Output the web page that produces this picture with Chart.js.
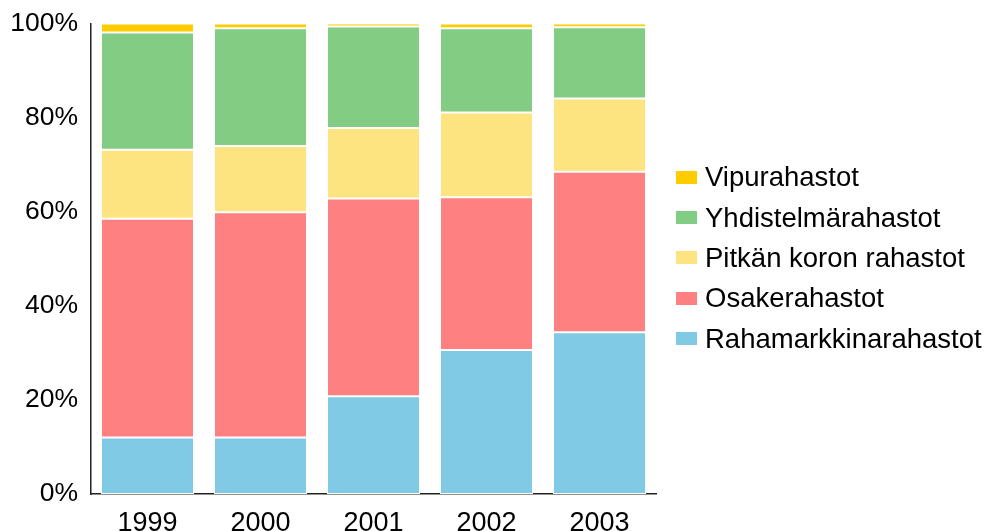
<!DOCTYPE html>
<html>
<head>
<meta charset="utf-8">
<script src="https://cdn.jsdelivr.net/npm/chart.js@4/dist/chart.umd.min.js"></script>
<style>
  html, body { margin: 0; padding: 0; background: #fff; }
  #wrap { position: relative; width: 986px; height: 531px; }
  #legend { position: absolute; left: 676px; top: 157px; font: 27.5px "Liberation Sans", Arial, sans-serif; color: #000; }
  #legend div { height: 40.4px; display: flex; align-items: center; white-space: nowrap; }
  #legend span.box { display: inline-block; width: 21px; height: 13px; margin-right: 8px; }
</style>
</head>
<body>
<div id="wrap">
  <canvas id="chart" width="986" height="531"></canvas>
  <div id="legend"></div>
</div>
<script>
const years = [`1999`, `2000`, `2001`, `2002`, `2003`];

// osuudet prosentteina, alhaalta ylös
const rahamarkkina = [12.0, 12.0, 20.8, 30.6, 34.4];
const osake = [46.5, 47.9, 42.0, 32.5, 34.1];
const pitkaKorko = [14.7, 14.1, 15.0, 18.0, 15.6];
const yhdistelma = [24.9, 25.0, 21.6, 17.9, 15.1];
const vipu = [1.9, 1.0, 0.6, 1.0, 0.8];

const yTicks = [0, 20, 40, 60, 80, 100];

const font = `"Liberation Sans", Arial, sans-serif`;

const datasets = [
  { label: `Rahamarkkinarahastot`, data: rahamarkkina, backgroundColor: `#80cae6` },
  { label: `Osakerahastot`, data: osake, backgroundColor: `#ff8080` },
  { label: `Pitkän koron rahastot`, data: pitkaKorko, backgroundColor: `#fde480` },
  { label: `Yhdistelmärahastot`, data: yhdistelma, backgroundColor: `#83cc83` },
  { label: `Vipurahastot`, data: vipu, backgroundColor: `#ffcc00` },
].map((ds) => ({
  ...ds,
  borderColor: `#ffffff`,
  borderWidth: 1,
  borderSkipped: false,
  categoryPercentage: 1,
  barPercentage: 0.823,
}));

new Chart(document.getElementById(`chart`).getContext(`2d`), {
  type: `bar`,
  data: { labels: years, datasets },
  options: {
    responsive: false,
    animation: false,
    layout: { padding: { left: 0, right: 330, top: 18, bottom: 0 } },
    plugins: { legend: { display: false }, tooltip: { enabled: false } },
    scales: {
      x: {
        stacked: true,
        grid: { display: false, drawTicks: false },
        border: { color: `#222`, width: 1.5 },
        ticks: { color: `#000`, padding: 18, font: { family: font, size: 27, lineHeight: 0.85 } },
        afterFit: (axis) => { axis.height = 37; },
      },
      y: {
        stacked: true,
        min: 0,
        max: 100,
        afterBuildTicks: (axis) => { axis.ticks = yTicks.map((v) => ({ value: v })); },
        grid: { display: false, drawTicks: false },
        border: { color: `#222`, width: 1.5 },
        ticks: { color: `#000`, padding: 13, font: { family: font, size: 26.5, lineHeight: 0.8 }, callback: (v) => `${v}%` },
        afterFit: (axis) => { axis.width = 91; },
      },
    },
  },
});

// legend in reverse order like the original
const legend = document.getElementById(`legend`);
datasets.slice().reverse().forEach((ds) => {
  const row = document.createElement(`div`);
  row.innerHTML = `<span class="box" style="background:${ds.backgroundColor}"></span>${ds.label}`;
  legend.appendChild(row);
});
</script>
</body>
</html>
